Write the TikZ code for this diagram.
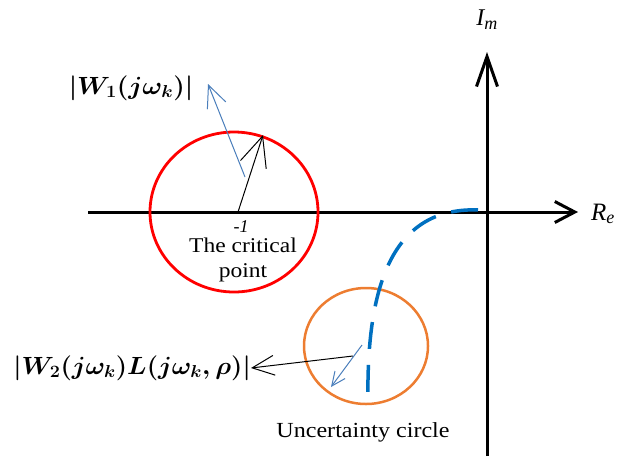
\documentclass[tikz,border=0pt]{standalone}
\usepackage{fontspec}
\setmainfont{Liberation Serif}
\newfontfamily\widefont[FakeStretch=1.12]{Liberation Serif}
\usepackage{amsmath}
\usetikzlibrary{arrows.meta,shapes.geometric}
\definecolor{axblue}{HTML}{0070C0}
\definecolor{arblue}{HTML}{4A7EBB}
\definecolor{ored}{HTML}{FF0000}
\definecolor{orng}{HTML}{ED7D31}
\begin{document}
\begin{tikzpicture}[x=1pt,y=-1pt,
  axis/.style={line width=3pt,-{Straight Barb[length=#1,width=21pt,line width=3pt]}},
  thinarrow/.style={line width=1pt,-{Straight Barb[length=#1,width=0.9*#1,line width=1pt]}},
  lab/.style={inner sep=0pt}]
\useasboundingbox (0,0) rectangle (617,461);
% axes
\coordinate (xl) at (88,212);
\coordinate (xr) at (578,212);
\coordinate (yb) at (487,456);
\coordinate (yt) at (487,52);
\draw[axis=20pt] (xl) -- (xr);
\draw[axis=30pt] (yb) -- (yt);
\node[lab] (im) at (487,20) {\fontsize{24}{27}\selectfont\itshape I\textsubscript{\fontsize{18}{20}\selectfont m}};
\node[lab] (re) at (603,214) {\fontsize{25}{28}\selectfont\itshape R\textsubscript{\fontsize{18}{20}\selectfont e}};
% red circle
\node[draw=ored,line width=2.8pt,ellipse,minimum width=168pt,minimum height=160pt,inner sep=0pt] (rc) at (234,212) {};
% orange circle
\node[draw=orng,line width=2.5pt,ellipse,minimum width=124pt,minimum height=116pt,inner sep=0pt] (oc) at (366,346) {};
% dashed nyquist
\coordinate (n0) at (480,210);
\coordinate (n1) at (368,402);
\draw[axblue,line width=3.5pt,dash pattern=on 27pt off 16pt,dash phase=-2pt] (n0) .. controls (395,206) and (366,280) .. (n1);
% critical point arrows
\coordinate (cp) at (238,212);
\coordinate (cpt) at (263,135);
\draw[thinarrow=30pt] (cp) -- (cpt);
\coordinate (b0) at (245,177);
\coordinate (b1) at (208,84);
\draw[arblue,thinarrow=22pt] (b0) -- (b1);
\node[lab] (m1) at (241,227) {\fontsize{18}{20}\selectfont\itshape -1};
\node[lab,align=center,font=\widefont\fontsize{21}{25}\selectfont] (tc) at (243,260) {The critical\\point};
\node[lab] (w1) at (131,88) {\scalebox{1.06}[1]{\fontsize{23}{26}\selectfont$\boldsymbol{|W_1(j\omega_k)|}$}};
% uncertainty arrows
\node[lab,anchor=east] (w2) at (251,368) {\scalebox{1.04}[1]{\fontsize{23}{26}\selectfont$\boldsymbol{|W_2(j\omega_k)L(j\omega_k,\rho)|}$}};
\coordinate (u0) at (353,356);
\draw[thinarrow=22pt] (u0) -- (w2.east);
\coordinate (s0) at (362,345);
\coordinate (s1) at (331,387);
\draw[arblue,thinarrow=14pt] (s0) -- (s1);
\node[lab] (uc) at (363,432) {\widefont\fontsize{21.5}{25}\selectfont Uncertainty circle};
\end{tikzpicture}
\end{document}
